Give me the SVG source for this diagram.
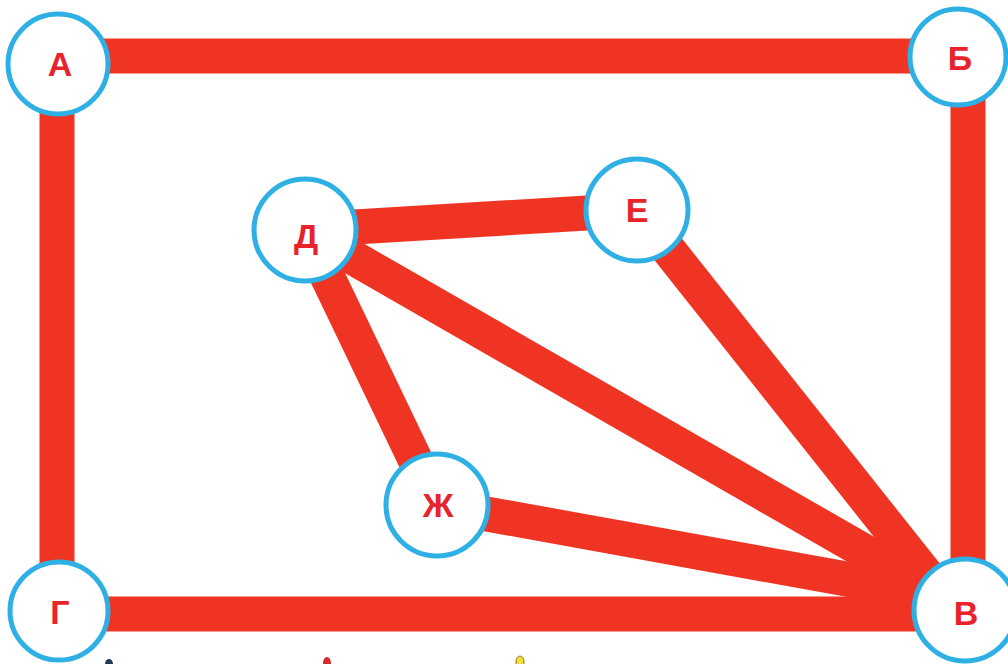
<svg xmlns="http://www.w3.org/2000/svg" width="1008" height="664" viewBox="0 0 1008 664">
<style>
.bar{stroke:#ef3423;stroke-width:35;stroke-linecap:butt;fill:none}
.node circle{fill:#ffffff;stroke:#2eb0e5;stroke-width:5}
.node text{font-family:"Liberation Sans",Arial,sans-serif;font-weight:bold;font-size:34px;fill:#e8232b;text-anchor:middle;dominant-baseline:central}
</style>
<rect width="1008" height="664" fill="#ffffff"/>
<g id="connectors">
<line class="bar" x1="58" y1="56" x2="958" y2="56"/>
<line class="bar" x1="57" y1="64" x2="57" y2="612"/>
<line class="bar" x1="968" y1="57" x2="968" y2="610"/>
<line class="bar" x1="59" y1="614" x2="965" y2="614"/>
<line class="bar" x1="305" y1="230" x2="637" y2="210"/>
<line class="bar" x1="305" y1="230" x2="437" y2="505"/>
<line class="bar" x1="305" y1="230" x2="935" y2="592"/>
<line class="bar" x1="637" y1="210" x2="940" y2="592"/>
<line class="bar" x1="437" y1="505" x2="935" y2="595"/>
</g>
<g id="node-A" class="node"><circle cx="58" cy="64" r="50"/><text x="60" y="64">А</text></g>
<g id="node-B" class="node"><circle cx="958" cy="57" r="48"/><text x="960" y="58">Б</text></g>
<g id="node-V" class="node"><circle cx="965" cy="610" r="51"/><text x="966" y="613">В</text></g>
<g id="node-G" class="node"><circle cx="59" cy="611" r="49"/><text x="60" y="612">Г</text></g>
<g id="node-D" class="node"><circle cx="305" cy="230" r="51"/><text x="306" y="236">Д</text></g>
<g id="node-E" class="node"><circle cx="637" cy="210" r="51"/><text x="637" y="210">Е</text></g>
<g id="node-Zh" class="node"><circle cx="437" cy="505" r="51"/><text x="438" y="505">Ж</text></g>
<g id="dots">
<ellipse cx="109" cy="664" rx="4" ry="5" fill="#1f3b57"/>
<ellipse cx="327" cy="663" rx="4" ry="6" fill="#d52a2a"/>
<ellipse cx="520" cy="662" rx="4" ry="6" fill="#f5df3a" stroke="#8a7a10" stroke-width="1"/>
</g>
</svg>
